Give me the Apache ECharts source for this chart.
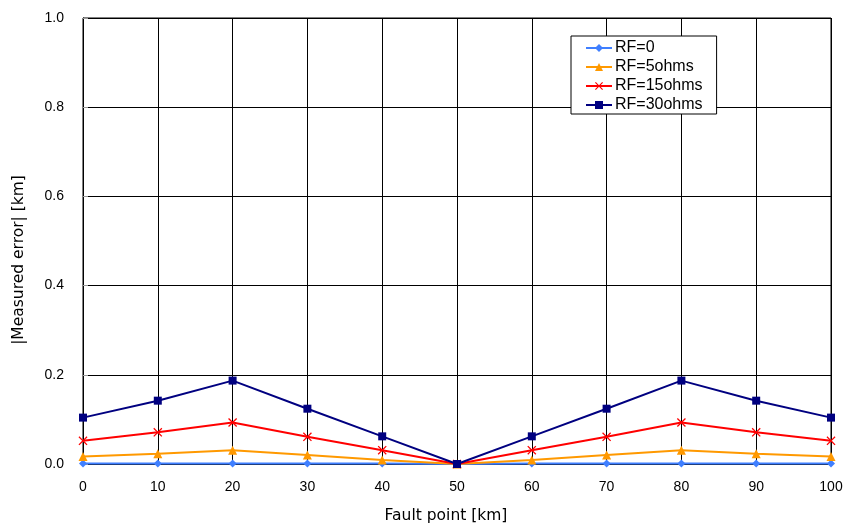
<!DOCTYPE html>
<html><head><meta charset="utf-8">
<script src="https://cdn.jsdelivr.net/npm/echarts@6/dist/echarts.min.js"></script>
<style>html,body{margin:0;padding:0;background:#fff}#c{width:845px;height:524px}</style>
</head><body><div id="c"></div>
<script>
const faultPoints = [0, 10, 20, 30, 40, 50, 60, 70, 80, 90, 100];
const rf0 = [0.001, 0.001, 0.001, 0.001, 0.001, 0.0, 0.001, 0.001, 0.001, 0.001, 0.001];
const rf5 = [0.017, 0.023, 0.031, 0.020, 0.009, 0.0, 0.009, 0.020, 0.031, 0.023, 0.017];
const rf15 = [0.052, 0.071, 0.093, 0.061, 0.031, 0.0, 0.031, 0.061, 0.093, 0.071, 0.052];
const rf30 = [0.104, 0.142, 0.187, 0.124, 0.062, 0.0, 0.062, 0.124, 0.187, 0.142, 0.104];
const seriesNames = ['RF=0', 'RF=5ohms', 'RF=15ohms', 'RF=30ohms'];

const font = 'Liberation Sans, Arial, sans-serif';
const titleFont = 'DejaVu Sans, sans-serif';
const crossPath = 'path://M0,1L1,0L5,4L9,0L10,1L6,5L10,9L9,10L5,6L1,10L0,9L4,5Z';
const pairs = arr => faultPoints.map((x, i) => [x, arr[i]]);
const defs = [
  {data: rf0, color: '#3F7FFF', symbol: 'diamond', size: 8},
  {data: rf5, color: '#FF9900', symbol: 'triangle', size: 9},
  {data: rf15, color: '#FF0000', symbol: crossPath, size: 9},
  {data: rf30, color: '#000080', symbol: 'rect', size: 8}
];

const chart = echarts.init(document.getElementById('c'));
chart.setOption({
  animation: false,
  backgroundColor: '#fff',
  grid: {left: 83, right: 14, top: 18, bottom: 60, show: true, borderColor: '#000', borderWidth: 1,
         outerBoundsMode: 'none', containLabel: false},
  legend: {
    orient: 'vertical', left: 571, top: 36, width: 149,
    padding: [4, 14, 1, 14], itemGap: 3, itemWidth: 26, itemHeight: 10,
    borderColor: '#000', borderWidth: 1, backgroundColor: '#fff',
    textStyle: {fontFamily: font, fontSize: 16, color: '#000', padding: [0, 0, 0, -2]},
    data: seriesNames
  },
  xAxis: {
    type: 'value', min: 0, max: 100, interval: 10,
    name: 'Fault point [km]', nameLocation: 'middle', nameGap: 44,
    nameTextStyle: {fontFamily: titleFont, fontSize: 15.5, color: '#000', padding: [0, 22, 0, 0]},
    axisLine: {show: true, lineStyle: {color: '#000', width: 1}},
    axisTick: {show: false},
    axisLabel: {fontFamily: font, fontSize: 14, color: '#000', margin: 16},
    splitLine: {show: true, lineStyle: {color: '#000', width: 1}}
  },
  yAxis: {
    type: 'value', min: 0, max: 1.0, interval: 0.2,
    name: '|Measured error| [km]', nameLocation: 'middle', nameGap: 56,
    nameTextStyle: {fontFamily: titleFont, fontSize: 15.5, color: '#000', padding: [0, 38, 0, 0]},
    axisLine: {show: true, lineStyle: {color: '#000', width: 1}},
    axisTick: {show: true, inside: true, length: 5, lineStyle: {color: '#999'}},
    axisLabel: {fontFamily: font, fontSize: 14, color: '#000', margin: 19, formatter: v => v.toFixed(1)},
    splitLine: {show: true, lineStyle: {color: '#000', width: 1}}
  },
  series: defs.map((d, i) => ({
    name: seriesNames[i], type: 'line', data: pairs(d.data),
    symbol: d.symbol, symbolSize: d.size, showAllSymbol: true,
    lineStyle: {color: d.color, width: 2},
    itemStyle: {color: d.color},
    emphasis: {disabled: true}
  }))
});
</script></body></html>
